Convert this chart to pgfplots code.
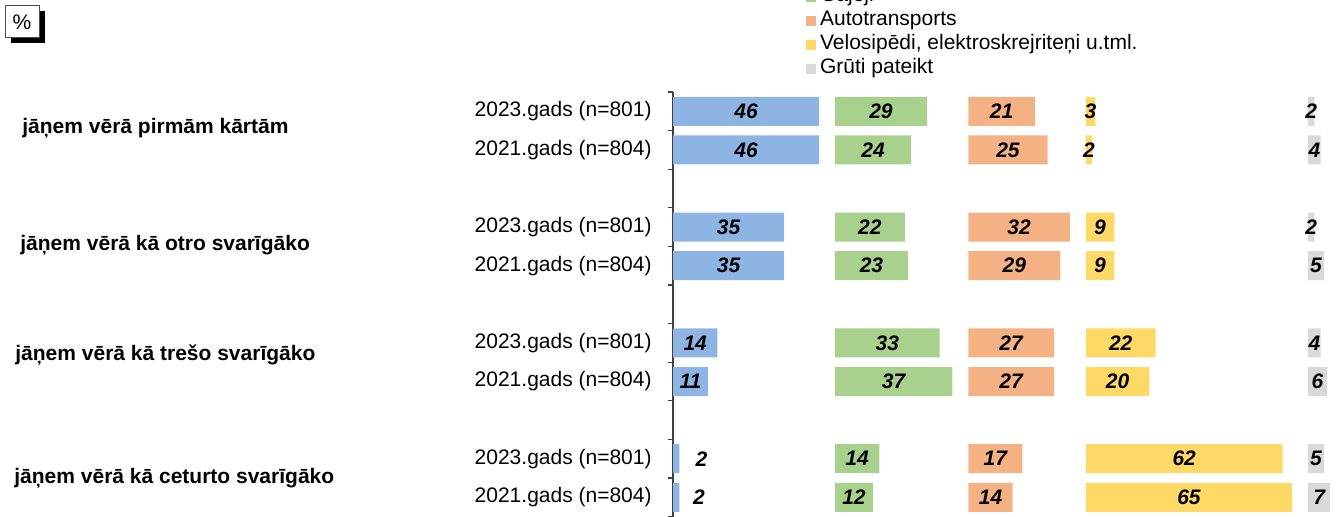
\documentclass[border=0pt]{standalone}
\usepackage{fontspec}
\setmainfont{Liberation Sans}
\usepackage{pgfplots}
\usepackage{pgfplotstable}
\pgfplotsset{compat=1.18}

\definecolor{cblue}{HTML}{8DB4E2}
\definecolor{cgreen}{HTML}{A9D18E}
\definecolor{corange}{HTML}{F4B183}
\definecolor{cyellow}{HTML}{FFD966}
\definecolor{cgray}{HTML}{D9D9D9}

% row: 0,1 = group 1 ; 3,4 = group 2 ; 6,7 = group 3 ; 9,10 = group 4
\pgfplotstableread{
row b g o y r bx
0 46 29 21 3 2 23
1 46 24 25 2 4 23
3 35 22 32 9 2 17.5
4 35 23 29 9 5 17.5
6 14 33 27 22 4 7
7 11 37 27 20 6 5.5
9 2 14 17 62 5 9
10 2 12 14 65 7 8.2
}\data

\begin{document}
\fontsize{10.5}{12.6}\selectfont
\begin{tikzpicture}
\pgfplotsset{
  common/.style={
    at={(336.5pt,-46pt)}, anchor=north west,
    x=1.5875pt, y=19.3pt, y dir=reverse,
    xmin=0, xmax=210, ymin=-0.5, ymax=10.5,
    clip=false,
  },
  spacer/.style={draw=none, fill=none, forget plot},
  lab/.style={draw=none, mark=none, forget plot, nodes near coords,
    point meta=explicit symbolic,
    nodes near coords={\pgfplotspointmeta},
    every node near coord/.append style={anchor=center, inner sep=0pt,
      font=\fontsize{10.5}{12.6}\selectfont\bfseries\itshape, text=black}},
}
\begin{axis}[common,
  xbar stacked, bar width=14.5pt,
  axis x line=none, axis y line*=left,
  axis line style={black!75, line width=0.6pt},
  ytick={0,1,3,4,6,7,9,10},
  yticklabels={2023.gads (n=801),2021.gads (n=804),2023.gads (n=801),2021.gads (n=804),2023.gads (n=801),2021.gads (n=804),2023.gads (n=801),2021.gads (n=804)},
  major tick length=0pt,
  yticklabel style={font=\fontsize{10.5}{12.6}\selectfont, inner sep=0pt, xshift=-10.5pt},
  extra y ticks={-0.5,0.5,1.5,2.5,3.5,4.5,5.5,6.5,7.5,8.5,9.5,10.5},
  extra y tick labels={},
  extra y tick style={major tick length=2.5pt, tick align=outside, tick style={black!75, line width=0.6pt}},
  legend style={draw=none, fill=none, at={(0.199,1.3086)}, anchor=north west,
    row sep=0pt, inner sep=0pt, font=\fontsize{10.5}{12.6}\selectfont,
    nodes={inner ysep=0pt, text height=8pt, text depth=4pt}},
  legend cell align=left,
  legend image code/.code={\fill[#1] (0pt,-2.2pt) rectangle (5pt,2.8pt);},
]
\addplot[fill=cblue, draw=none] table[x=b, y=row]{\data};
\addlegendentry{Sabiedriskais transports}
\addplot[spacer] table[x expr=51-\thisrow{b}, y=row]{\data};
\addplot[fill=cgreen, draw=none] table[x=g, y=row]{\data};
\addlegendentry{Gājēji}
\addplot[spacer] table[x expr=42-\thisrow{g}, y=row]{\data};
\addplot[fill=corange, draw=none] table[x=o, y=row]{\data};
\addlegendentry{Autotransports}
\addplot[spacer] table[x expr=37-\thisrow{o}, y=row]{\data};
\addplot[fill=cyellow, draw=none] table[x=y, y=row]{\data};
\addlegendentry{Velosipēdi, elektroskrejriteņi u.tml.}
\addplot[spacer] table[x expr=70-\thisrow{y}, y=row]{\data};
\addplot[fill=cgray, draw=none] table[x=r, y=row]{\data};
\addlegendentry{Grūti pateikt}
\end{axis}

\begin{axis}[common, hide axis]
\addplot[lab] table[x=bx, y=row, meta=b]{\data};
\addplot[lab] table[x expr=51+\thisrow{g}/2, y=row, meta=g]{\data};
\addplot[lab] table[x expr=93+\thisrow{o}/2, y=row, meta=o]{\data};
\addplot[lab] table[x expr=130+\thisrow{y}/2, y=row, meta=y]{\data};
\addplot[lab] table[x expr=200+\thisrow{r}/2, y=row, meta=r]{\data};
\end{axis}

\begin{scope}[every node/.style={anchor=west, inner sep=0pt, font=\fontsize{10.5}{12.6}\selectfont\bfseries}]
\node at (11pt,-64pt) {jāņem vērā pirmām kārtām};
\node at (10pt,-122.5pt) {jāņem vērā kā otro svarīgāko};
\node at (7.5pt,-177.5pt) {jāņem vērā kā trešo svarīgāko};
\node at (7pt,-239pt) {jāņem vērā kā ceturto svarīgāko};
\end{scope}

% "%" box with shadow
\fill[black] (5.5pt,-5.5pt) rectangle (22.5pt,-21.5pt);
\filldraw[fill=white, draw=black!70, line width=0.5pt] (2.5pt,-2.5pt) rectangle (19.5pt,-18.5pt);
\node[inner sep=0pt, font=\fontsize{10.5}{12.6}\selectfont] at (11pt,-11pt) {\%};

\pgfresetboundingbox
\useasboundingbox (0pt,0pt) rectangle (670pt,-258pt);
\end{tikzpicture}
\end{document}
